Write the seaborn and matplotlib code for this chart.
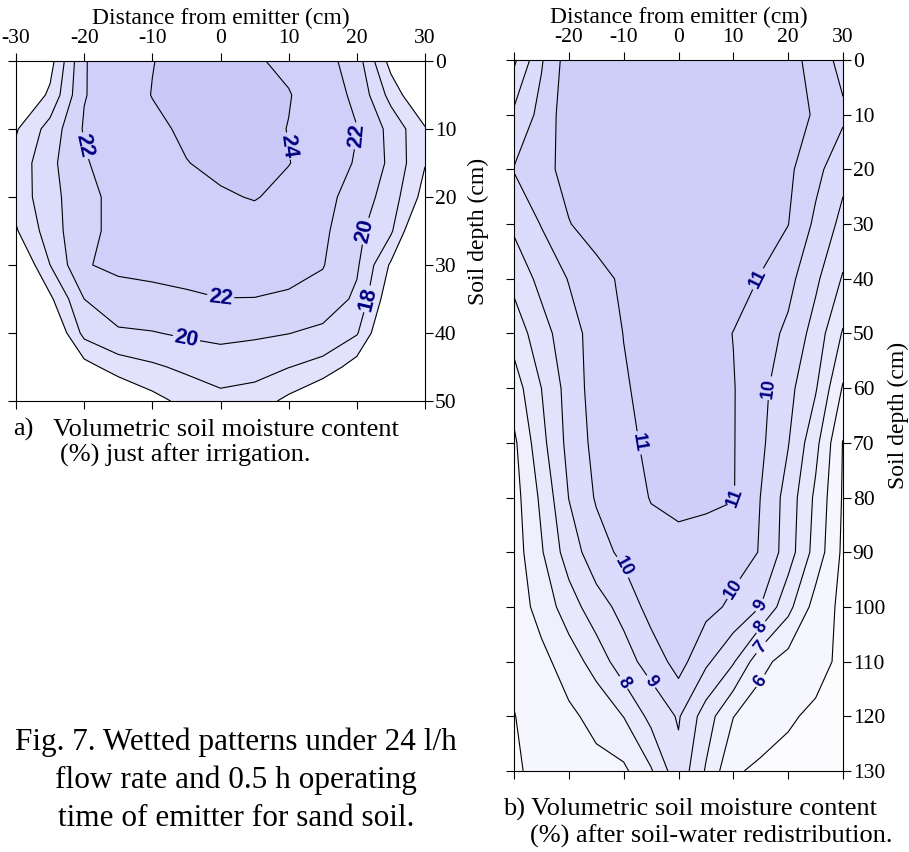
import matplotlib
matplotlib.use("Agg")
import matplotlib.pyplot as plt
import numpy as np
import seaborn as sns

# ---------------- data: panel a (just after irrigation) ----------------
distance_a = [-30, -25, -20, -15, -10, -5, 0, 5, 10, 15, 20, 25, 30]
depth_a = [0, 5, 10, 15, 20, 25, 30, 35, 40, 45, 50]
moisture_a = [
    [12.0, 15.2, 21.9, 23.0, 23.95, 24.6, 24.8, 24.2, 23.6, 22.8, 21.0, 15.2, 12.0],
    [13.5, 16.4, 21.9, 23.1, 24.05, 24.7, 24.9, 24.8, 24.1, 23.0, 21.6, 17.3, 13.5],
    [15.8, 18.8, 22.2, 23.3, 23.6, 24.3, 24.7, 24.6, 23.95, 23.2, 22.05, 19.4, 16.2],
    [16.7, 19.5, 21.8, 23.0, 23.4, 23.95, 24.4, 24.4, 24.05, 23.2, 21.8, 19.6, 16.1],
    [16.8, 19.3, 21.4, 22.6, 23.0, 23.4, 23.8, 24.1, 23.5, 22.6, 21.2, 19.0, 15.2],
    [15.8, 19.0, 21.6, 22.4, 22.7, 22.9, 23.1, 23.2, 23.1, 22.4, 20.5, 18.3, 12.5],
    [13.5, 18.0, 21.9, 22.3, 22.4, 22.5, 22.6, 22.6, 22.5, 22.1, 20.3, 15.7, 11.5],
    [11.5, 15.6, 20.0, 21.4, 21.6, 21.8, 21.98, 21.97, 21.8, 21.3, 19.6, 14.5, 10.5],
    [9.5, 13.5, 18.6, 19.7, 19.9, 20.3, 20.5, 20.3, 20.05, 19.5, 18.2, 13.0, 9.5],
    [8.0, 11.0, 15.2, 17.0, 17.7, 18.4, 19.0, 18.8, 18.05, 17.3, 15.0, 11.5, 8.0],
    [6.0, 8.0, 11.0, 13.5, 15.3, 16.6, 17.4, 17.0, 15.5, 13.5, 11.5, 9.0, 6.0],
]
levels_a = [16, 18, 20, 22, 24]

# ---------------- data: panel b (after redistribution) ----------------
distance_b = [-30, -25, -20, -15, -10, -5, 0, 5, 10, 15, 20, 25, 30]
depth_b = [0, 10, 20, 30, 40, 50, 60, 70, 80, 90, 100, 110, 120, 130]
moisture_b = [
    [7.8, 9.9, 11.5, 11.5, 11.6, 11.6, 11.6, 11.6, 11.6, 11.5, 11.3, 10.7, 9.6],
    [9.2, 10.3, 11.6, 11.6, 11.6, 11.6, 11.6, 11.6, 11.6, 11.6, 11.4, 10.9, 10.2],
    [10.05, 10.6, 11.4, 11.6, 11.6, 11.6, 11.6, 11.6, 11.6, 11.5, 11.2, 10.3, 9.3],
    [9.2, 10.05, 10.95, 11.5, 11.6, 11.6, 11.6, 11.6, 11.6, 11.4, 11.02, 9.8, 8.7],
    [8.3, 9.3, 10.05, 10.6, 11.2, 11.5, 11.5, 11.5, 11.4, 10.95, 10.3, 9.2, 7.9],
    [7.4, 8.6, 9.6, 10.4, 11.02, 11.4, 11.5, 11.4, 10.98, 10.45, 9.8, 8.6, 6.9],
    [6.5, 8.0, 9.4, 10.45, 10.9, 11.3, 11.4, 11.3, 11.05, 10.3, 9.3, 8.1, 5.9],
    [5.8, 7.7, 9.3, 10.3, 10.75, 11.2, 11.35, 11.3, 11.05, 10.2, 9.05, 7.3, 4.95],
    [5.6, 7.2, 9.02, 10.1, 10.5, 11.05, 11.2, 11.15, 11.05, 9.98, 8.6, 6.8, 4.9],
    [5.5, 6.9, 8.5, 9.55, 10.25, 10.6, 10.75, 10.65, 10.4, 9.95, 8.5, 6.6, 4.8],
    [5.4, 6.4, 7.5, 8.6, 9.3, 10.4, 10.5, 10.3, 9.8, 8.98, 7.3, 5.6, 4.75],
    [5.15, 5.7, 6.5, 7.4, 8.6, 9.4, 10.4, 9.2, 8.1, 6.3, 5.6, 5.3, 4.8],
    [4.98, 5.3, 5.8, 6.3, 7.02, 8.3, 9.1, 7.5, 6.02, 5.45, 5.1, 4.85, 4.75],
    [4.9, 5.2, 5.5, 5.7, 5.8, 6.9, 8.7, 6.9, 5.1, 4.85, 4.75, 4.7, 4.6],
]
levels_b = [5, 6, 7, 8, 9, 10, 11]

xticks = [-30, -20, -10, 0, 10, 20, 30]
xticklabels_a = ["-30", "-20", "-10", "0", "10", "20", "30"]
xticklabels_b = ["", "-20", "-10", "0", "10", "20", "30"]
yticks_a = [0, 10, 20, 30, 40, 50]
yticks_b = [0, 10, 20, 30, 40, 50, 60, 70, 80, 90, 100, 110, 120, 130]

xlabel_text = "Distance from emitter (cm)"
ylabel_text = "Soil depth (cm)"
caption_a1 = "a)"
caption_a2 = "Volumetric soil moisture content"
caption_a3 = "(%) just after irrigation."
caption_b1 = "b) Volumetric soil moisture content"
caption_b2 = "(%) after soil-water redistribution."
fig_caption = ["Fig. 7. Wetted patterns under 24 l/h",
               "flow rate and 0.5 h operating",
               "time of emitter for sand soil."]

# ---------------- style ----------------
sns.set_style("ticks")
plt.rcParams["font.family"] = ["Liberation Serif", "DejaVu Serif"]
plt.rcParams["axes.unicode_minus"] = False
for key in ("text.color", "axes.labelcolor", "xtick.color", "ytick.color", "axes.edgecolor"):
    plt.rcParams[key] = "black"

W, H = 909, 852
fig = plt.figure(figsize=(W / 100, H / 100), dpi=100)
fig.patch.set_facecolor("white")


def axes_px(left, top, right, bottom):
    return fig.add_axes([left / W, 1 - bottom / H, (right - left) / W, (bottom - top) / H])


ax_a = axes_px(16, 61, 425, 401)
ax_b = axes_px(514, 60, 843, 771)

fill_a = ["#ffffff"] + sns.blend_palette(["#e2e2fc", "#c9c9f8"], n_colors=5)
fill_b = sns.blend_palette(["#fcfcff", "#cecef9"], n_colors=8)

label_family = ["Liberation Sans", "DejaVu Sans"]


def snap_points(cs, levels, spec):
    """Move each wanted label spot onto the nearest vertex of its own level's line."""
    paths = cs.get_paths()
    pts = []
    for lev, lx, ly in spec:
        verts = paths[levels.index(lev)].vertices
        d = (verts[:, 0] - lx) ** 2 + (verts[:, 1] - ly) ** 2
        j = int(np.argmin(d))
        pts.append((float(verts[j, 0]), float(verts[j, 1])))
    return pts


def draw_panel(ax, xs, ds, z, levels, fills, lo, hi, xtl, yt, label_spec, lab_size):
    X, D = np.meshgrid(np.array(xs, float), np.array(ds, float))
    Z = np.array(z, float)
    ax.set_xlim(-30, 30)
    ax.set_ylim(max(ds), 0)
    ax.contourf(X, D, Z, levels=[lo] + levels + [hi], colors=fills)
    cs = ax.contour(X, D, Z, levels=levels, colors="black", linewidths=0.8)
    pts = snap_points(cs, levels, label_spec)
    texts = cs.clabel(fmt="%d", fontsize=lab_size, colors="#000080",
                      manual=pts, inline=True, inline_spacing=3)
    for t in texts:
        t.set_fontfamily(label_family)
        t.set_fontweight("bold")
    ax.set_xticks(xticks)
    ax.set_xticklabels(xtl)
    ax.set_yticks(yt)
    ax.tick_params(axis="both", direction="out", length=5.5, width=0.8, color="black",
                   labelcolor="black", labelsize=15.5, top=True, bottom=True, left=True,
                   right=True, labeltop=True, labelbottom=False, labelleft=False,
                   labelright=True)
    ax.tick_params(axis="x", pad=4)
    ax.tick_params(axis="y", pad=1.5)
    ax.xaxis.set_label_position("top")
    ax.yaxis.set_label_position("right")
    for s in ax.spines.values():
        s.set_color("black")
        s.set_linewidth(0.8)
        s.set_visible(True)
    ax.set_xlabel(xlabel_text, fontsize=17, labelpad=3.5, color="black")


labels_a = [(22, -20.4, 13.6), (24, 9.8, 12.0), (22, 20.4, 11.9), (20, 21.3, 23.9),
            (18, 21.8, 37.1), (22, -0.6, 34.9), (20, -4.8, 41.3)]
labels_b = [(11, 15.4, 40.2), (10, 17.0, 59.7), (11, -8.2, 68.2), (11, 10.3, 75.6),
            (10, -9.2, 96.6), (10, 10.0, 96.0), (9, 16.7, 95.0), (8, 16.1, 105.1),
            (7, 16.1, 109.7), (6, 16.1, 115.8), (8, -10.4, 116.1), (9, -5.2, 115.5)]

draw_panel(ax_a, distance_a, depth_a, moisture_a, levels_a, fill_a, 0, 40,
           xticklabels_a, yticks_a, labels_a, 15.5)
draw_panel(ax_b, distance_b, depth_b, moisture_b, levels_b, fill_b, 0, 20,
           xticklabels_b, yticks_b, labels_b, 13)
ax_a.set_ylabel(ylabel_text, fontsize=17, labelpad=8, color="black")
ax_b.set_ylabel(ylabel_text, fontsize=17, labelpad=2, color="black")


def ftext(x, y, s, size, ha="left"):
    fig.text(x / W, 1 - y / H, s, fontsize=size, ha=ha, va="baseline", color="black")


ftext(13, 436, caption_a1, 19)
ftext(53, 436, caption_a2, 19)
ftext(60, 462, caption_a3, 19)
ftext(503, 816, caption_b1, 19)
ftext(530, 843, caption_b2, 19)
for i, line in enumerate(fig_caption):
    ftext(236, 750 + i * 38, line, 22.5, ha="center")

fig.savefig("out.png", dpi=100, facecolor="white")
